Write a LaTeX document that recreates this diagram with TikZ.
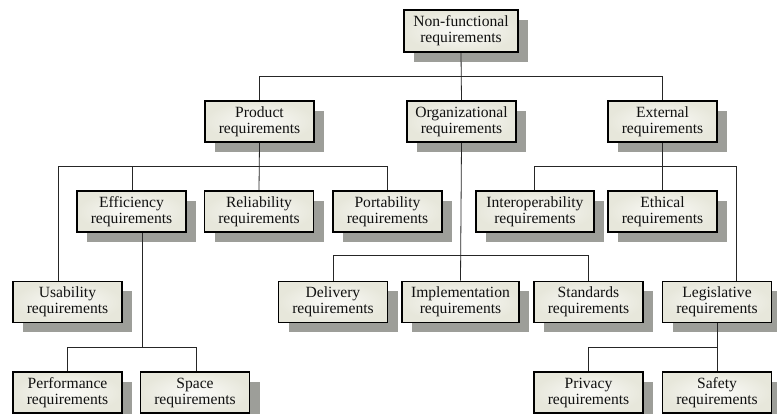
\documentclass[tikz,border=0pt]{standalone}
\usepackage{fontspec}
\setmainfont{Liberation Serif}
\usetikzlibrary{shadows}
\definecolor{shadowgray}{HTML}{9D9E99}
\definecolor{boxfill}{HTML}{E7E7DB}
\definecolor{inkc}{HTML}{111111}
\tikzset{
  req/.style={draw=black, line width=1.6pt, inner color=white!85!boxfill, outer color=boxfill,
    general shadow={fill=shadowgray, shadow xshift=10pt, shadow yshift=-9.5pt},
    minimum width=109pt, minimum height=41pt, inner sep=0pt, align=center,
    text=inkc, font=\fontsize{15.6}{16}\selectfont},
  conn/.style={draw=black!85, line width=0.8pt}
}
\begin{document}
\begin{tikzpicture}[x=1pt,y=-1pt]
\clip (0,0) rectangle (777,413);
\fill[white] (0,0) rectangle (777,413);
% nodes
\node[req, minimum width=114pt, minimum height=42pt] (nf) at (461,31) {Non-functional\\requirements};
\node[req] (prod) at (259.5,121.5) {Product\\requirements};
\node[req] (org) at (461.5,121.5) {Organizational\\requirements};
\node[req] (ext) at (662.5,121.5) {External\\requirements};
\node[req] (eff) at (131.5,211.5) {Efficiency\\requirements};
\node[req] (rel) at (259,211.5) {Reliability\\requirements};
\node[req] (port) at (387.5,211.5) {Portability\\requirements};
\node[req, minimum width=118pt] (inter) at (535,211.5) {Interoperability\\requirements};
\node[req] (eth) at (662.5,211.5) {Ethical\\requirements};
\node[req] (usa) at (67.5,302) {Usability\\requirements};
\node[req] (del) at (333,302) {Delivery\\requirements};
\node[req, minimum width=117pt] (impl) at (460.5,302) {Implementation\\requirements};
\node[req] (std) at (588.5,302) {Standards\\requirements};
\node[req] (leg) at (717,302) {Legislative\\requirements};
\node[req] (perf) at (67.5,392.5) {Performance\\requirements};
\node[req] (space) at (195,392.5) {Space\\requirements};
\node[req] (priv) at (588.5,392.5) {Privacy\\requirements};
\node[req] (safe) at (717,392.5) {Safety\\requirements};
% bus coordinates
\coordinate (b1) at (0,76);
\coordinate (b2) at (0,166);
\coordinate (b3) at (0,255);
\coordinate (b4) at (0,347);
% level 1
\draw[conn] (nf.south) -- (org.north);
\draw[conn] (prod.north) -- (prod.north |- b1) -- (ext.north |- b1) -- (ext.north);
% product
\draw[conn] (prod.south) -- (rel.north);
\draw[conn] ([xshift=-9.5pt]usa.north) -- ([xshift=-9.5pt]usa.north |- b2) -- (port.north |- b2) -- (port.north);
\draw[conn] ([xshift=0.5pt]eff.north) -- ([xshift=0.5pt]eff.north |- b2);
% organizational
\draw[conn] (org.south) -- (impl.north);
\draw[conn] (del.north) -- (del.north |- b3) -- (std.north |- b3) -- (std.north);
% external
\draw[conn] (ext.south) -- (eth.north);
\draw[conn] ([xshift=-1pt]inter.north) -- ([xshift=-1pt]inter.north |- b2) -- ([xshift=19pt]leg.north |- b2) -- ([xshift=19pt]leg.north);
% efficiency
\draw[conn] ([xshift=10.5pt]eff.south) -- ([xshift=10.5pt]eff.south |- b4);
\draw[conn] (perf.north) -- (perf.north |- b4) -- ([xshift=1pt]space.north |- b4) -- ([xshift=1pt]space.north);
% legislative
\draw[conn] (leg.south) -- (safe.north);
\draw[conn] (priv.north) -- (priv.north |- b4) -- (safe.north |- b4);
\end{tikzpicture}
\end{document}
